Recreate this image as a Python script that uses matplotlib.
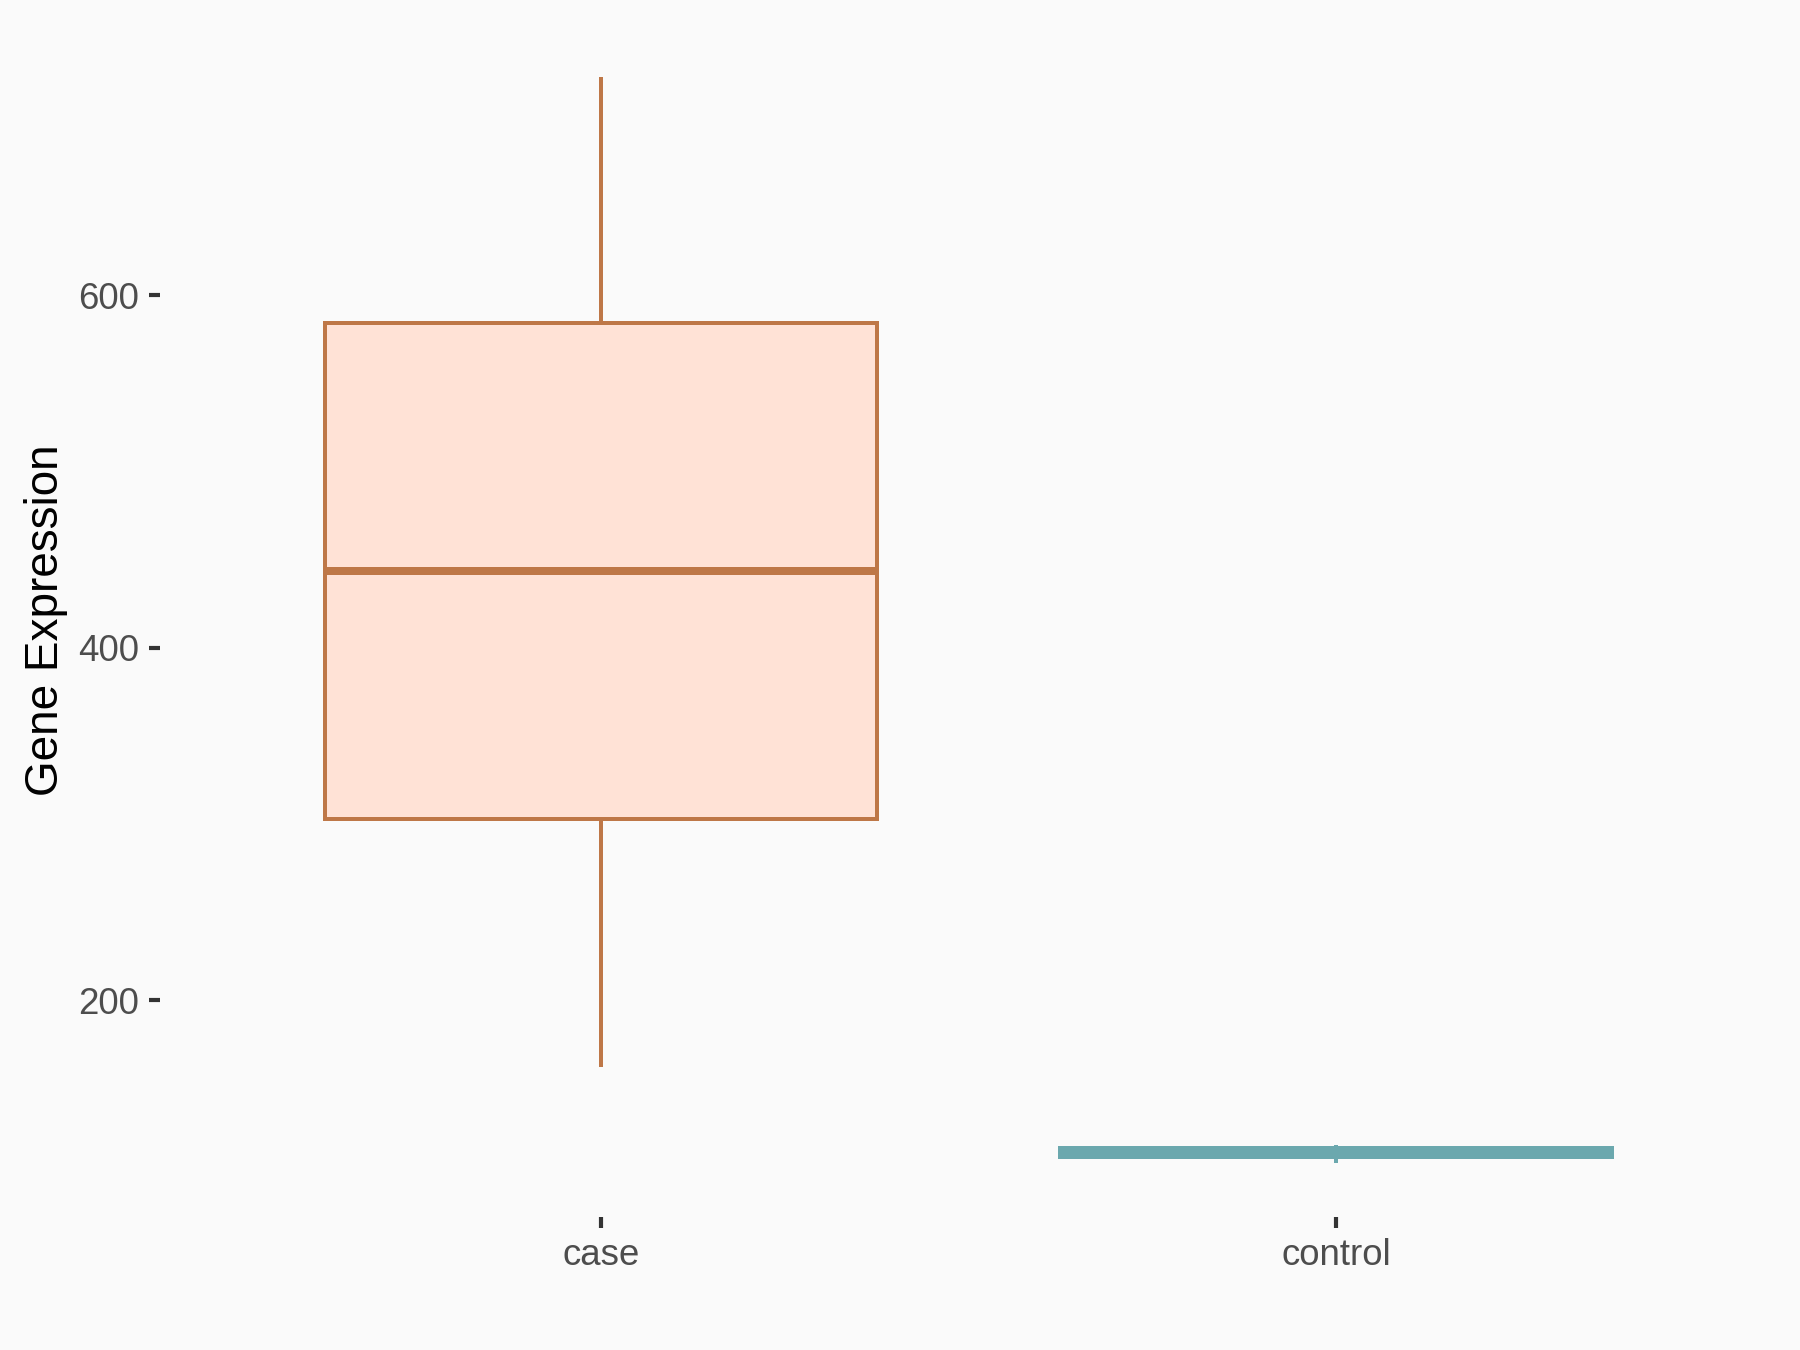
import matplotlib
matplotlib.use("Agg")
import matplotlib.pyplot as plt

# Data
groups = ["case", "control"]
whisker_low = [162.2, 107.7]
q1 = [302.6, 111.0]
median = [443.4, 113.6]
q3 = [584.0, 116.3]
whisker_high = [723.9, 118.0]

edge_colors = ["#BE7747", "#6BA8AE"]
fill_colors = ["#FFE2D6", "#D9ECEE"]
bg = "#FAFAFA"

plt.rcParams["font.family"] = ["Liberation Sans", "DejaVu Sans"]

fig = plt.figure(figsize=(6, 4.5), dpi=300, facecolor=bg)
ax = fig.add_axes([0.0889, 0.0985, 0.8983, 0.8847])
ax.set_facecolor(bg)

stats = []
for i, g in enumerate(groups):
    stats.append(dict(label=g, whislo=whisker_low[i], q1=q1[i], med=median[i],
                      q3=q3[i], whishi=whisker_high[i], fliers=[]))

positions = list(range(1, len(groups) + 1))
bp = ax.bxp(stats, positions=positions, widths=0.75, patch_artist=True,
            showcaps=False, showfliers=False)

for i in range(len(groups)):
    box = bp["boxes"][i]
    box.set_facecolor(fill_colors[i])
    box.set_edgecolor(edge_colors[i])
    box.set_linewidth(0.96)
    box.set_zorder(3)
    bp["medians"][i].set_color(edge_colors[i])
    bp["medians"][i].set_linewidth(1.92)
    bp["medians"][i].set_solid_capstyle("butt")
    bp["medians"][i].set_zorder(4)
    for w in bp["whiskers"][2 * i:2 * i + 2]:
        w.set_color(edge_colors[i])
        w.set_linewidth(0.96)
        w.set_solid_capstyle("butt")
        w.set_zorder(2)

ax.set_xlim(0.4, len(groups) + 0.6)
lo = min(whisker_low)
hi = max(whisker_high)
rng = hi - lo
ax.set_ylim(lo - 0.05 * rng, hi + 0.05 * rng)
ax.set_yticks([200, 400, 600])
ax.set_xticks(positions)
ax.set_xticklabels(groups)

for s in ax.spines.values():
    s.set_visible(False)

ax.tick_params(axis="both", length=2.75, width=1.0, color="#333333",
               labelcolor="#4D4D4D", labelsize=8.8, pad=2.2)
ax.set_ylabel("Gene Expression", fontsize=11, color="black", labelpad=2.5)
ax.set_xlabel("")

fig.savefig("out.png", dpi=300, facecolor=bg)
